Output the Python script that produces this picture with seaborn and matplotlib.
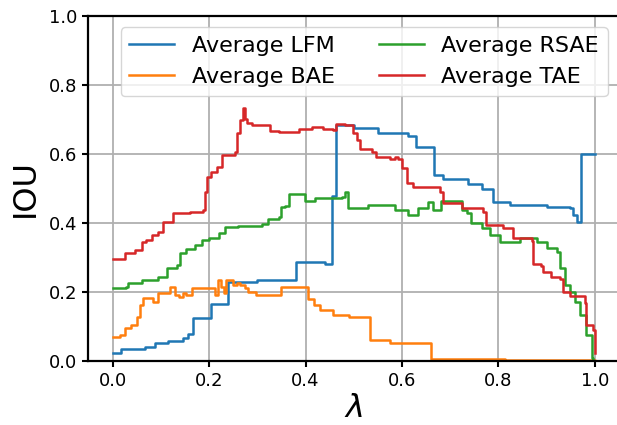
import numpy as np
import pandas as pd
import matplotlib
matplotlib.use("Agg")
import matplotlib.pyplot as plt
import seaborn as sns

# ---- data ----
lfm_x = [0.0, 0.017, 0.067, 0.088, 0.115, 0.146, 0.157, 0.167, 0.205, 0.240, 0.300, 0.381, 0.420, 0.440,
         0.454, 0.463, 0.500, 0.551, 0.613, 0.630, 0.666, 0.686, 0.737, 0.765, 0.789, 0.824, 0.900, 0.948,
         0.955, 0.962, 0.972, 1.0]
lfm_y = [0.023, 0.034, 0.039, 0.050, 0.057, 0.066, 0.077, 0.123, 0.164, 0.228, 0.234, 0.287, 0.285, 0.281,
         0.479, 0.684, 0.675, 0.662, 0.653, 0.621, 0.539, 0.527, 0.512, 0.497, 0.461, 0.452, 0.447, 0.444,
         0.423, 0.403, 0.600, 0.600]

bae_x = [0.0, 0.015, 0.026, 0.039, 0.050, 0.057, 0.063, 0.075, 0.083, 0.095, 0.119, 0.129, 0.137, 0.145,
         0.152, 0.164, 0.212, 0.218, 0.224, 0.230, 0.236, 0.250, 0.258, 0.265, 0.275, 0.281, 0.298, 0.350,
         0.406, 0.418, 0.430, 0.457, 0.490, 0.533, 0.575, 0.661, 0.813, 1.0]
bae_y = [0.068, 0.075, 0.094, 0.104, 0.128, 0.162, 0.181, 0.183, 0.170, 0.195, 0.215, 0.190, 0.186, 0.195,
         0.190, 0.212, 0.190, 0.234, 0.215, 0.195, 0.234, 0.220, 0.225, 0.220, 0.210, 0.200, 0.192, 0.213,
         0.178, 0.161, 0.147, 0.133, 0.128, 0.060, 0.050, 0.006, 0.001, 0.0]

rsae_x = [0.0, 0.028, 0.032, 0.060, 0.095, 0.112, 0.133, 0.140, 0.153, 0.170, 0.185, 0.199, 0.220, 0.233,
          0.260, 0.309, 0.323, 0.345, 0.350, 0.357, 0.366, 0.399, 0.419, 0.475, 0.482, 0.489, 0.530, 0.585,
          0.613, 0.634, 0.654, 0.665, 0.681, 0.724, 0.734, 0.744, 0.765, 0.782, 0.803, 0.844, 0.879, 0.900,
          0.921, 0.927, 0.938, 0.948, 0.959, 0.969, 0.982, 0.993, 0.997]
rsae_y = [0.210, 0.213, 0.224, 0.234, 0.244, 0.270, 0.277, 0.312, 0.324, 0.335, 0.350, 0.355, 0.370, 0.389,
          0.392, 0.396, 0.410, 0.418, 0.447, 0.450, 0.484, 0.463, 0.473, 0.476, 0.489, 0.442, 0.452, 0.437,
          0.423, 0.442, 0.461, 0.437, 0.463, 0.437, 0.428, 0.399, 0.384, 0.365, 0.345, 0.355, 0.345, 0.326,
          0.316, 0.268, 0.220, 0.200, 0.171, 0.133, 0.075, 0.007, 0.0]

tae_x = [0.0, 0.026, 0.046, 0.060, 0.070, 0.081, 0.095, 0.105, 0.126, 0.160, 0.188, 0.191, 0.195, 0.205,
         0.216, 0.226, 0.254, 0.257, 0.264, 0.270, 0.275, 0.278, 0.290, 0.326, 0.345, 0.387, 0.413, 0.437,
         0.457, 0.464, 0.482, 0.499, 0.506, 0.513, 0.537, 0.547, 0.575, 0.585, 0.592, 0.600, 0.610, 0.623,
         0.679, 0.686, 0.724, 0.768, 0.775, 0.810, 0.831, 0.869, 0.872, 0.889, 0.893, 0.910, 0.927, 0.934,
         0.948, 0.979, 0.981, 0.997, 1.0]
tae_y = [0.295, 0.311, 0.321, 0.345, 0.350, 0.365, 0.374, 0.403, 0.428, 0.431, 0.437, 0.490, 0.534, 0.548,
         0.563, 0.597, 0.606, 0.660, 0.698, 0.732, 0.700, 0.689, 0.684, 0.665, 0.663, 0.672, 0.679, 0.671,
         0.668, 0.687, 0.684, 0.660, 0.640, 0.613, 0.606, 0.592, 0.584, 0.590, 0.585, 0.558, 0.515, 0.503,
         0.490, 0.457, 0.442, 0.432, 0.394, 0.384, 0.357, 0.348, 0.281, 0.275, 0.258, 0.244, 0.236, 0.200,
         0.188, 0.168, 0.104, 0.089, 0.021]

series_names = ["Average LFM", "Average BAE", "Average RSAE", "Average TAE"]
series_x = [lfm_x, bae_x, rsae_x, tae_x]
series_y = [lfm_y, bae_y, rsae_y, tae_y]
colors = ["#1f77b4", "#ff7f0e", "#2ca02c", "#d62728"]

frames = []
for name, xs, ys in zip(series_names, series_x, series_y):
    assert len(xs) == len(ys), name
    frames.append(pd.DataFrame({"lam": xs, "iou": ys, "series": name}))
df = pd.concat(frames, ignore_index=True)

# ---- figure ----
fig = plt.figure(figsize=(6.17, 4.25), dpi=100)
ax = fig.add_axes([88.5 / 617, 1 - 360.7 / 425, 530.5 / 617, 344.7 / 425])

sns.lineplot(data=df, x="lam", y="iou", hue="series", hue_order=series_names,
             palette=colors, estimator=None, sort=False, drawstyle="steps-post",
             linewidth=1.8, ax=ax, legend=False)

ax.set_xlim(-0.05, 1.05)
ax.set_ylim(0.0, 1.0)
ax.set_xticks([0.0, 0.2, 0.4, 0.6, 0.8, 1.0])
ax.set_yticks([0.0, 0.2, 0.4, 0.6, 0.8, 1.0])
ax.grid(True, color="#b0b0b0", linewidth=1.3)
ax.set_axisbelow(True)
for s in ax.spines.values():
    s.set_color("black")
    s.set_linewidth(1.6)
ax.tick_params(labelsize=13, width=1.5, length=4.5, colors="black")

ax.set_xlabel(r"$\lambda$", fontsize=23, labelpad=2)
ax.set_ylabel("IOU", fontsize=23, labelpad=6)

handles = [plt.Line2D([], [], color=c, linewidth=1.8) for c in colors]
ax.legend(handles, series_names, ncol=2, loc="upper right", fontsize=16,
          columnspacing=2.0, handlelength=2.0)

fig.savefig("out.png", dpi=100)
